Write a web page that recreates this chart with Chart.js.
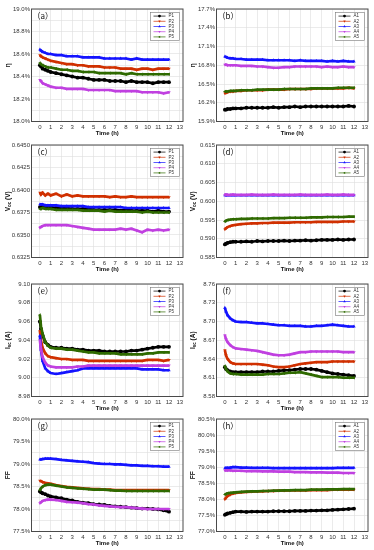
<!DOCTYPE html>
<html>
<head>
<meta charset="utf-8">
<script src="https://cdn.jsdelivr.net/npm/chart.js@4.4.0/dist/chart.umd.min.js"></script>
<style>
  html, body { margin: 0; padding: 0; background: #fff; }
  #wrap { position: relative; width: 374px; height: 550px; overflow: hidden; }
  .cell { position: absolute; }
</style>
</head>
<body>
<div id="wrap"></div>
<script>
'use strict';

// sampling times (h) shared by every series
const hours = [0, 0.1, 0.25, 0.5, 0.75, 1, 1.5, 2, 2.5, 3, 3.5, 4, 4.5, 5, 5.5, 6, 6.5, 7, 7.5, 8, 8.5, 9, 9.5, 10, 10.5, 11, 11.5, 12];
const hourTicks = [0, 1, 2, 3, 4, 5, 6, 7, 8, 9, 10, 11, 12, 13];

const pNames = ['P1', 'P2', 'P3', 'P4', 'P5'];
const aNames = ['A1', 'A2', 'A3', 'A4', 'A5'];

// (a) efficiency, P cells (%)
const effP1 = [18.50, 18.49, 18.47, 18.46, 18.45, 18.44, 18.43, 18.42, 18.41, 18.40, 18.39, 18.39, 18.38, 18.37, 18.37, 18.37, 18.36, 18.36, 18.36, 18.35, 18.36, 18.35, 18.35, 18.35, 18.34, 18.35, 18.35, 18.35];
const effP2 = [18.59, 18.58, 18.57, 18.56, 18.55, 18.54, 18.53, 18.52, 18.51, 18.51, 18.50, 18.50, 18.49, 18.49, 18.49, 18.48, 18.48, 18.48, 18.47, 18.47, 18.47, 18.46, 18.47, 18.47, 18.46, 18.47, 18.47, 18.47];
const effP3 = [18.64, 18.63, 18.62, 18.61, 18.60, 18.60, 18.59, 18.59, 18.58, 18.58, 18.58, 18.57, 18.57, 18.57, 18.57, 18.56, 18.56, 18.56, 18.56, 18.56, 18.55, 18.56, 18.55, 18.55, 18.55, 18.55, 18.55, 18.55];
const effP4 = [18.37, 18.36, 18.34, 18.33, 18.32, 18.31, 18.30, 18.30, 18.29, 18.29, 18.29, 18.29, 18.28, 18.28, 18.28, 18.28, 18.28, 18.27, 18.27, 18.27, 18.27, 18.27, 18.26, 18.26, 18.26, 18.26, 18.25, 18.26];
const effP5 = [18.52, 18.51, 18.50, 18.49, 18.48, 18.48, 18.47, 18.46, 18.46, 18.45, 18.45, 18.44, 18.44, 18.44, 18.43, 18.43, 18.43, 18.43, 18.43, 18.42, 18.43, 18.42, 18.42, 18.42, 18.42, 18.42, 18.42, 18.42];
const effPTicks = [18.0, 18.2, 18.4, 18.6, 18.8, 19.0];

// (b) efficiency, A cells (%)
const effA1 = [16.09, 16.09, 16.10, 16.10, 16.11, 16.11, 16.11, 16.12, 16.12, 16.12, 16.12, 16.12, 16.13, 16.12, 16.13, 16.13, 16.14, 16.13, 16.14, 16.14, 16.14, 16.14, 16.14, 16.14, 16.14, 16.14, 16.15, 16.14];
const effA2 = [16.35, 16.36, 16.37, 16.38, 16.38, 16.39, 16.39, 16.40, 16.40, 16.40, 16.40, 16.41, 16.41, 16.41, 16.41, 16.42, 16.42, 16.42, 16.42, 16.42, 16.43, 16.43, 16.43, 16.43, 16.43, 16.43, 16.44, 16.43];
const effA3 = [16.94, 16.93, 16.92, 16.91, 16.91, 16.90, 16.90, 16.89, 16.89, 16.89, 16.89, 16.88, 16.88, 16.88, 16.88, 16.88, 16.87, 16.88, 16.87, 16.87, 16.87, 16.87, 16.86, 16.87, 16.86, 16.87, 16.86, 16.86];
const effA4 = [16.81, 16.81, 16.80, 16.80, 16.80, 16.80, 16.79, 16.79, 16.79, 16.78, 16.78, 16.77, 16.76, 16.76, 16.77, 16.77, 16.78, 16.78, 16.78, 16.78, 16.78, 16.77, 16.78, 16.77, 16.77, 16.78, 16.77, 16.77];
const effA5 = [16.38, 16.38, 16.38, 16.39, 16.39, 16.39, 16.40, 16.40, 16.40, 16.41, 16.41, 16.41, 16.41, 16.41, 16.42, 16.42, 16.42, 16.42, 16.42, 16.43, 16.43, 16.43, 16.43, 16.43, 16.44, 16.44, 16.44, 16.44];
const effATicks = [15.9, 16.2, 16.5, 16.8, 17.1, 17.4, 17.7];

// (c) Voc, P cells (V)
const vocP1 = [0.6381, 0.6381, 0.6382, 0.6381, 0.6381, 0.6381, 0.6380, 0.6380, 0.6380, 0.6379, 0.6379, 0.6379, 0.6379, 0.6378, 0.6378, 0.6378, 0.6378, 0.6378, 0.6377, 0.6378, 0.6377, 0.6377, 0.6377, 0.6377, 0.6376, 0.6377, 0.6376, 0.6376];
const vocP2 = [0.6397, 0.6395, 0.6397, 0.6394, 0.6396, 0.6394, 0.6396, 0.6393, 0.6395, 0.6393, 0.6394, 0.6393, 0.6393, 0.6393, 0.6393, 0.6393, 0.6392, 0.6393, 0.6392, 0.6392, 0.6393, 0.6392, 0.6392, 0.6392, 0.6392, 0.6392, 0.6392, 0.6392];
const vocP3 = [0.6384, 0.6384, 0.6384, 0.6383, 0.6383, 0.6383, 0.6383, 0.6382, 0.6382, 0.6382, 0.6382, 0.6382, 0.6381, 0.6381, 0.6381, 0.6381, 0.6381, 0.6381, 0.6381, 0.6380, 0.6380, 0.6380, 0.6380, 0.6380, 0.6380, 0.6380, 0.6380, 0.6380];
const vocP4 = [0.6358, 0.6359, 0.6360, 0.6361, 0.6361, 0.6361, 0.6361, 0.6361, 0.6361, 0.6360, 0.6359, 0.6358, 0.6357, 0.6356, 0.6356, 0.6356, 0.6356, 0.6356, 0.6357, 0.6356, 0.6357, 0.6355, 0.6353, 0.6356, 0.6355, 0.6356, 0.6355, 0.6356];
const vocP5 = [0.6379, 0.6379, 0.6380, 0.6379, 0.6379, 0.6379, 0.6378, 0.6378, 0.6378, 0.6378, 0.6378, 0.6377, 0.6377, 0.6377, 0.6377, 0.6376, 0.6377, 0.6376, 0.6376, 0.6376, 0.6376, 0.6376, 0.6375, 0.6376, 0.6375, 0.6375, 0.6375, 0.6375];
const vocPTicks = [0.6325, 0.6350, 0.6375, 0.6400, 0.6425, 0.6450];

// (d) Voc, A cells (V)
const vocA1 = [0.5885, 0.5887, 0.5889, 0.5891, 0.5892, 0.5892, 0.5892, 0.5893, 0.5892, 0.5894, 0.5893, 0.5894, 0.5894, 0.5894, 0.5895, 0.5894, 0.5895, 0.5895, 0.5896, 0.5895, 0.5896, 0.5897, 0.5897, 0.5897, 0.5898, 0.5897, 0.5898, 0.5898];
const vocA2 = [0.5925, 0.5928, 0.5931, 0.5934, 0.5936, 0.5937, 0.5939, 0.5940, 0.5941, 0.5941, 0.5942, 0.5942, 0.5943, 0.5943, 0.5943, 0.5943, 0.5944, 0.5944, 0.5944, 0.5944, 0.5945, 0.5945, 0.5945, 0.5945, 0.5945, 0.5946, 0.5946, 0.5946];
const vocA3 = [0.6016, 0.6016, 0.6016, 0.6016, 0.6016, 0.6016, 0.6016, 0.6016, 0.6016, 0.6016, 0.6016, 0.6016, 0.6016, 0.6016, 0.6016, 0.6016, 0.6016, 0.6016, 0.6016, 0.6016, 0.6016, 0.6016, 0.6016, 0.6016, 0.6016, 0.6016, 0.6016, 0.6016];
const vocA4 = [0.6017, 0.6018, 0.6017, 0.6017, 0.6018, 0.6017, 0.6017, 0.6017, 0.6018, 0.6017, 0.6017, 0.6017, 0.6018, 0.6017, 0.6017, 0.6017, 0.6017, 0.6018, 0.6017, 0.6017, 0.6017, 0.6017, 0.6018, 0.6017, 0.6017, 0.6018, 0.6017, 0.6017];
const vocA5 = [0.5946, 0.5948, 0.5950, 0.5951, 0.5952, 0.5952, 0.5953, 0.5953, 0.5954, 0.5954, 0.5954, 0.5954, 0.5955, 0.5955, 0.5955, 0.5956, 0.5956, 0.5956, 0.5956, 0.5957, 0.5957, 0.5957, 0.5958, 0.5958, 0.5958, 0.5958, 0.5959, 0.5959];
const vocATicks = [0.585, 0.590, 0.595, 0.600, 0.605, 0.610, 0.615];

// (e) Isc, P cells (A)
const iscP1 = [9.060, 9.052, 9.045, 9.038, 9.035, 9.033, 9.032, 9.032, 9.031, 9.031, 9.030, 9.030, 9.029, 9.029, 9.029, 9.028, 9.028, 9.028, 9.028, 9.028, 9.029, 9.029, 9.030, 9.031, 9.032, 9.033, 9.033, 9.033];
const iscP2 = [9.050, 9.040, 9.032, 9.026, 9.023, 9.022, 9.021, 9.020, 9.020, 9.019, 9.019, 9.019, 9.018, 9.018, 9.018, 9.018, 9.018, 9.018, 9.018, 9.018, 9.018, 9.018, 9.018, 9.019, 9.019, 9.019, 9.018, 9.019];
const iscP3 = [9.045, 9.030, 9.018, 9.010, 9.007, 9.005, 9.004, 9.005, 9.006, 9.007, 9.008, 9.010, 9.010, 9.010, 9.010, 9.010, 9.010, 9.010, 9.010, 9.010, 9.010, 9.010, 9.009, 9.009, 9.009, 9.009, 9.008, 9.008];
const iscP4 = [9.040, 9.030, 9.022, 9.016, 9.013, 9.012, 9.011, 9.011, 9.011, 9.011, 9.012, 9.012, 9.013, 9.013, 9.013, 9.013, 9.013, 9.013, 9.013, 9.013, 9.013, 9.013, 9.013, 9.013, 9.013, 9.013, 9.013, 9.013];
const iscP5 = [9.067, 9.055, 9.047, 9.038, 9.034, 9.032, 9.031, 9.031, 9.030, 9.030, 9.029, 9.028, 9.027, 9.027, 9.026, 9.026, 9.026, 9.026, 9.025, 9.025, 9.025, 9.025, 9.025, 9.026, 9.026, 9.027, 9.027, 9.027];
const iscPTicks = [8.98, 9.00, 9.02, 9.04, 9.06, 9.08, 9.10];

// (f) Isc, A cells (A)
const iscA1 = [8.627, 8.624, 8.622, 8.620, 8.619, 8.619, 8.619, 8.619, 8.619, 8.619, 8.620, 8.620, 8.620, 8.621, 8.622, 8.622, 8.623, 8.624, 8.624, 8.624, 8.623, 8.621, 8.619, 8.617, 8.616, 8.615, 8.614, 8.613];
const iscA2 = [8.654, 8.646, 8.640, 8.635, 8.633, 8.632, 8.632, 8.632, 8.632, 8.632, 8.631, 8.630, 8.628, 8.627, 8.627, 8.628, 8.630, 8.632, 8.633, 8.634, 8.635, 8.635, 8.635, 8.636, 8.636, 8.636, 8.636, 8.636];
const iscA3 = [8.722, 8.716, 8.710, 8.705, 8.702, 8.700, 8.699, 8.699, 8.698, 8.697, 8.697, 8.696, 8.695, 8.694, 8.694, 8.693, 8.693, 8.693, 8.692, 8.692, 8.693, 8.693, 8.694, 8.695, 8.694, 8.693, 8.692, 8.692];
const iscA4 = [8.678, 8.672, 8.667, 8.662, 8.659, 8.657, 8.656, 8.655, 8.654, 8.653, 8.651, 8.649, 8.647, 8.646, 8.646, 8.647, 8.649, 8.651, 8.651, 8.652, 8.652, 8.652, 8.652, 8.652, 8.652, 8.651, 8.651, 8.651];
const iscA5 = [8.629, 8.624, 8.620, 8.617, 8.616, 8.616, 8.615, 8.615, 8.615, 8.615, 8.615, 8.616, 8.616, 8.616, 8.617, 8.618, 8.618, 8.619, 8.617, 8.615, 8.613, 8.611, 8.611, 8.611, 8.611, 8.610, 8.610, 8.610];
const iscATicks = [8.58, 8.61, 8.64, 8.67, 8.70, 8.73, 8.76];

// (g) FF, P cells (%)
const ffP1 = [78.39, 78.37, 78.35, 78.33, 78.30, 78.28, 78.26, 78.24, 78.21, 78.19, 78.16, 78.14, 78.13, 78.11, 78.10, 78.09, 78.07, 78.06, 78.05, 78.04, 78.03, 78.02, 78.01, 78.01, 78.00, 77.99, 77.97, 77.94];
const ffP2 = [78.63, 78.62, 78.60, 78.58, 78.57, 78.56, 78.53, 78.51, 78.49, 78.48, 78.47, 78.46, 78.45, 78.44, 78.44, 78.43, 78.43, 78.42, 78.42, 78.42, 78.42, 78.42, 78.42, 78.42, 78.42, 78.42, 78.42, 78.42];
const ffP3 = [79.10, 79.10, 79.11, 79.12, 79.12, 79.12, 79.11, 79.09, 79.08, 79.07, 79.06, 79.05, 79.04, 79.02, 79.01, 79.00, 79.00, 78.99, 78.99, 78.98, 78.97, 78.97, 78.96, 78.96, 78.95, 78.95, 78.94, 78.94];
const ffP4 = [78.13, 78.15, 78.18, 78.20, 78.21, 78.21, 78.20, 78.18, 78.16, 78.15, 78.14, 78.13, 78.11, 78.10, 78.08, 78.07, 78.06, 78.05, 78.04, 78.04, 78.03, 78.02, 78.01, 78.00, 78.00, 78.00, 78.00, 78.00];
const ffP5 = [78.42, 78.46, 78.50, 78.53, 78.54, 78.54, 78.52, 78.50, 78.48, 78.47, 78.46, 78.45, 78.44, 78.43, 78.43, 78.43, 78.42, 78.41, 78.41, 78.40, 78.40, 78.40, 78.40, 78.40, 78.40, 78.40, 78.40, 78.40];
const ffPTicks = [77.5, 78.0, 78.5, 79.0, 79.5, 80.0];

// (h) FF, A cells (%)
const ffA1 = [77.52, 77.54, 77.56, 77.58, 77.60, 77.62, 77.62, 77.61, 77.62, 77.62, 77.62, 77.62, 77.63, 77.63, 77.63, 77.63, 77.64, 77.64, 77.64, 77.65, 77.65, 77.66, 77.66, 77.67, 77.68, 77.69, 77.70, 77.71];
const ffA2 = [78.00, 78.05, 78.10, 78.15, 78.18, 78.20, 78.22, 78.23, 78.24, 78.25, 78.25, 78.26, 78.26, 78.27, 78.27, 78.28, 78.28, 78.28, 78.28, 78.29, 78.29, 78.29, 78.29, 78.30, 78.30, 78.30, 78.30, 78.30];
const ffA3 = [78.97, 78.98, 78.98, 78.99, 79.00, 79.00, 78.99, 78.99, 78.98, 78.98, 78.98, 78.98, 78.97, 78.97, 78.97, 78.97, 78.97, 78.97, 78.97, 78.97, 78.97, 78.97, 78.97, 78.97, 78.98, 78.98, 78.98, 78.98];
const ffA4 = [78.90, 78.90, 78.90, 78.90, 78.89, 78.89, 78.89, 78.88, 78.88, 78.88, 78.87, 78.87, 78.87, 78.86, 78.86, 78.86, 78.85, 78.85, 78.85, 78.84, 78.84, 78.84, 78.83, 78.83, 78.83, 78.82, 78.82, 78.82];
const ffA5 = [78.15, 78.17, 78.19, 78.20, 78.21, 78.22, 78.23, 78.24, 78.25, 78.25, 78.26, 78.26, 78.27, 78.27, 78.28, 78.28, 78.29, 78.29, 78.29, 78.30, 78.30, 78.30, 78.31, 78.31, 78.31, 78.32, 78.32, 78.32];
const ffATicks = [77.0, 77.5, 78.0, 78.5, 79.0, 79.5, 80.0, 80.5];

const colors = ['#000000', '#d03000', '#1414ff', '#c040e0', '#2f6a00'];
const marks = ['circle', 'triangle', 'triangle', 'triangle', 'triangle'];
const turns = [0, 180, 0, 180, 270];
const FONT = '"Liberation Sans", Arial, sans-serif';

const panels = [
    { tag: 'a', col: 0, row: 0, names: pNames, series: [effP1, effP2, effP3, effP4, effP5], ticks: effPTicks, dec: 1, unit: '%', ytitle: [['η', 0]] },
    { tag: 'b', col: 1, row: 0, names: aNames, series: [effA1, effA2, effA3, effA4, effA5], ticks: effATicks, dec: 1, unit: '%', ytitle: [['η', 0]] },
    { tag: 'c', col: 0, row: 1, names: pNames, series: [vocP1, vocP2, vocP3, vocP4, vocP5], ticks: vocPTicks, dec: 4, unit: '', ytitle: [['V', 0], ['oc', 1], [' (V)', 0]] },
    { tag: 'd', col: 1, row: 1, names: aNames, series: [vocA1, vocA2, vocA3, vocA4, vocA5], ticks: vocATicks, dec: 3, unit: '', ytitle: [['V', 0], ['oc', 1], [' (V)', 0]] },
    { tag: 'e', col: 0, row: 2, names: pNames, series: [iscP1, iscP2, iscP3, iscP4, iscP5], ticks: iscPTicks, dec: 2, unit: '', ytitle: [['I', 0], ['sc', 1], [' (A)', 0]] },
    { tag: 'f', col: 1, row: 2, names: aNames, series: [iscA1, iscA2, iscA3, iscA4, iscA5], ticks: iscATicks, dec: 2, unit: '', ytitle: [['I', 0], ['sc', 1], [' (A)', 0]] },
    { tag: 'g', col: 0, row: 3, names: pNames, series: [ffP1, ffP2, ffP3, ffP4, ffP5], ticks: ffPTicks, dec: 1, unit: '%', ytitle: [['FF', 0]] },
    { tag: 'h', col: 1, row: 3, names: aNames, series: [ffA1, ffA2, ffA3, ffA4, ffA5], ticks: ffATicks, dec: 1, unit: '%', ytitle: [['FF', 0]] },
];

const colLeft = [0, 185];
const rowTop = [0, 136, 275, 410];
const CW = 187, CH = 138;

// frame, panel tag, rotated y title and boxed legend
const decor = {
    id: 'decor',
    afterDraw(chart) {
        const { ctx, chartArea: a } = chart;
        const p = chart.options.plugins.decor;
        ctx.save();
        ctx.strokeStyle = '#4a4a4a';
        ctx.lineWidth = 1;
        ctx.strokeRect(a.left, a.top, a.right - a.left, a.bottom - a.top);

        ctx.fillStyle = '#111';
        ctx.font = '8px "Noto Sans CJK SC", sans-serif';
        ctx.textBaseline = 'middle';
        ctx.textAlign = 'left';
        ctx.fillText('（' + p.tag + '）', a.left + 1, a.top + 7);

        // y title
        ctx.save();
        ctx.translate(8, (a.top + a.bottom) / 2);
        ctx.rotate(-Math.PI / 2);
        const big = 'bold 6.5px ' + FONT, small = 'bold 4.5px ' + FONT;
        let total = 0;
        p.ytitle.forEach(([t, s]) => { ctx.font = s ? small : big; total += ctx.measureText(t).width; });
        let x = -total / 2;
        ctx.textAlign = 'left';
        p.ytitle.forEach(([t, s]) => {
            ctx.font = s ? small : big;
            ctx.fillText(t, x, s ? 1.8 : 0);
            x += ctx.measureText(t).width;
        });
        ctx.restore();

        // legend box
        const ds = chart.data.datasets;
        const w = 29, rh = 5.2, h = ds.length * rh + 2;
        const x0 = a.right - w - 3.5, y0 = a.top + 3.5;
        ctx.fillStyle = '#fff';
        ctx.fillRect(x0, y0, w, h);
        ctx.strokeStyle = '#777';
        ctx.lineWidth = 0.6;
        ctx.strokeRect(x0, y0, w, h);
        ds.forEach((d, i) => {
            const cy = y0 + 1 + rh * (i + 0.5);
            ctx.strokeStyle = d.borderColor;
            ctx.lineWidth = 0.7;
            ctx.beginPath();
            ctx.moveTo(x0 + 3, cy);
            ctx.lineTo(x0 + 15, cy);
            ctx.stroke();
            ctx.fillStyle = d.borderColor;
            Chart.helpers.drawPoint(ctx, { pointStyle: d.pointStyle, rotation: d.pointRotation, radius: 1.4, borderWidth: 0 }, x0 + 9, cy);
            ctx.fillStyle = '#333';
            ctx.font = '4.5px ' + FONT;
            ctx.textAlign = 'left';
            ctx.fillText(d.label, x0 + 18, cy);
        });
        ctx.restore();
    }
};

const wrap = document.getElementById('wrap');

panels.forEach((p) => {
    const box = document.createElement('div');
    box.className = 'cell';
    box.style.left = colLeft[p.col] + 'px';
    box.style.top = rowTop[p.row] + 'px';
    box.style.width = CW + 'px';
    box.style.height = CH + 'px';
    const cv = document.createElement('canvas');
    box.appendChild(cv);
    wrap.appendChild(box);

    const step = p.ticks[1] - p.ticks[0];
    const yMin = p.ticks[0], yMax = p.ticks[p.ticks.length - 1];
    const yLines = [];
    p.ticks.forEach((v, i) => {
        yLines.push(v);
        if (i < p.ticks.length - 1) yLines.push(v + step / 2);
    });
    const isMajor = (v) => p.ticks.some((t) => Math.abs(t - v) < step / 10);

    new Chart(cv, {
        type: 'line',
        data: {
            datasets: p.series.map((vals, i) => ({
                label: p.names[i],
                data: hours.map((t, k) => ({ x: t, y: vals[k] })),
                borderColor: colors[i],
                backgroundColor: colors[i],
                borderWidth: 2.7,
                pointStyle: marks[i],
                pointRotation: turns[i],
                pointRadius: 1.9,
                pointBorderWidth: 0,
                tension: 0,
                order: 5 - i,
            })),
        },
        options: {
            responsive: true,
            maintainAspectRatio: false,
            animation: false,
            layout: { padding: { top: 9, right: 3, left: 0, bottom: 0 } },
            scales: {
                x: {
                    type: 'linear',
                    min: -0.78,
                    max: 13.3,
                    afterFit: (s) => { s.height = 16.5; },
                    afterBuildTicks: (s) => { s.ticks = hourTicks.map((v) => ({ value: v })); },
                    grid: { color: '#dedede', lineWidth: 0.6, drawTicks: false },
                    border: { display: false },
                    ticks: {
                        autoSkip: false,
                        maxRotation: 0,
                        padding: 2,
                        color: '#333',
                        font: { family: FONT, size: 6 },
                    },
                    title: {
                        display: true,
                        text: 'Time (h)',
                        color: '#111',
                        padding: { top: 0, bottom: 1 },
                        font: { family: FONT, size: 6, weight: 'bold' },
                    },
                },
                y: {
                    min: yMin,
                    max: yMax,
                    afterFit: (s) => { s.width = 31.5; },
                    afterBuildTicks: (s) => { s.ticks = yLines.map((v) => ({ value: v })); },
                    grid: { color: '#dedede', lineWidth: 0.6, drawTicks: false },
                    border: { display: false },
                    ticks: {
                        padding: 1.5,
                        color: '#333',
                        font: { family: FONT, size: 6 },
                        callback: (v) => (isMajor(v) ? v.toFixed(p.dec) + p.unit : ''),
                    },
                },
            },
            plugins: {
                legend: { display: false },
                tooltip: { enabled: false },
                decor: { tag: p.tag, ytitle: p.ytitle },
            },
        },
        plugins: [decor],
    });
});
</script>
</body>
</html>
